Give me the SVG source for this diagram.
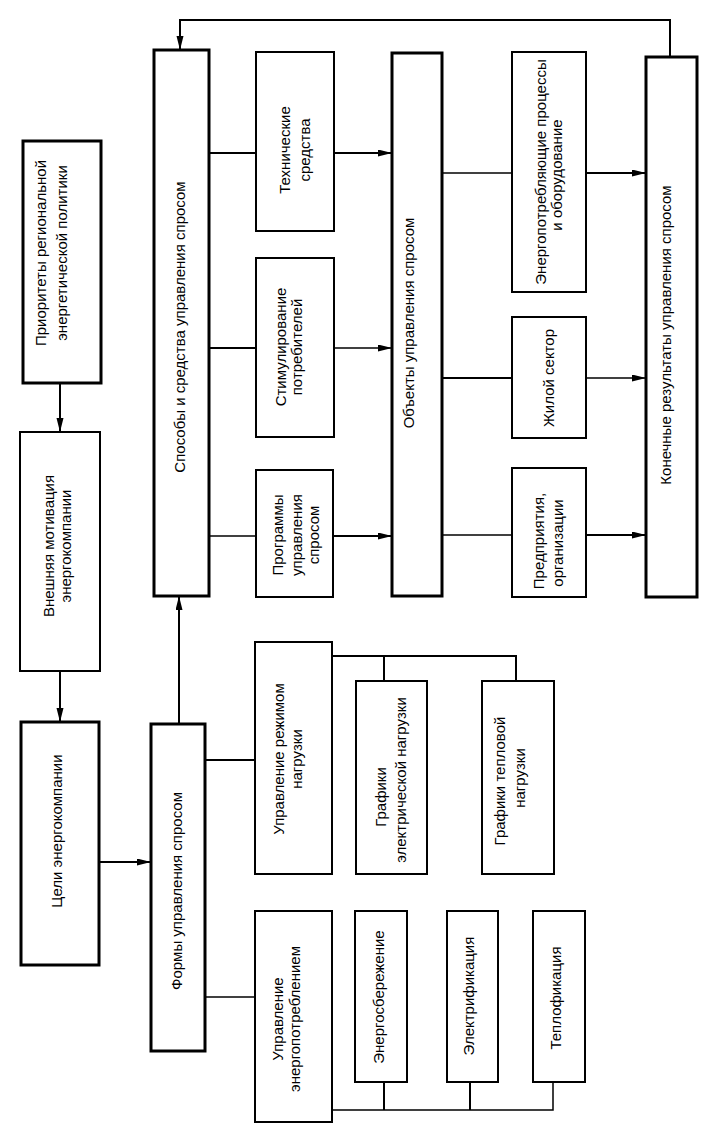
<svg xmlns="http://www.w3.org/2000/svg" width="703" height="1144" viewBox="0 0 703 1144">
<defs>
<style>
.box{fill:#fff;stroke:#000;stroke-width:2}
.thick{stroke-width:3}
.c{fill:none;stroke:#000;stroke-width:2}
.thin{stroke-width:1.5}
text{font-family:"Liberation Sans",Arial,sans-serif;font-size:15px;fill:#000;text-anchor:middle}
</style>
<marker id="ah" markerUnits="userSpaceOnUse" markerWidth="14" markerHeight="8" refX="14" refY="3.5" orient="auto">
<path d="M0,0 L14,3.5 L0,7 z" fill="#000"/>
</marker>
</defs>
<rect width="703" height="1144" fill="#fff"/>

<g id="connectors">
<path class="c" d="M670,57 V20 H180 V50" marker-end="url(#ah)"/>
<path class="c" d="M60,383 V432" marker-end="url(#ah)"/>
<path class="c" d="M60,671 V722" marker-end="url(#ah)"/>
<path class="c" d="M99,862 H151" marker-end="url(#ah)"/>
<path class="c" d="M179,724 V596" marker-end="url(#ah)"/>
<path class="c" d="M209,153 H256"/>
<path class="c" d="M334,153 H392" marker-end="url(#ah)"/>
<path class="c" d="M209,348 H256"/>
<path class="c thin" d="M334,348 H392" marker-end="url(#ah)"/>
<path class="c thin" d="M209,536 H256"/>
<path class="c" d="M333,536 H392" marker-end="url(#ah)"/>
<path class="c thin" d="M442,173 H512"/>
<path class="c" d="M586,173 H646" marker-end="url(#ah)"/>
<path class="c" d="M442,378 H512"/>
<path class="c thin" d="M586,378 H646" marker-end="url(#ah)"/>
<path class="c thin" d="M442,535 H512"/>
<path class="c" d="M586,535 H646" marker-end="url(#ah)"/>
<path class="c" d="M205,760 H255"/>
<path class="c thin" d="M205,997 H255"/>
<path class="c" d="M332,656 H516 V681"/>
<path class="c" d="M384,656 V681"/>
<path class="c thin" d="M332,1110 H553 V1082"/>
<path class="c" d="M384,1110 V1082"/>
<path class="c" d="M470,1110 V1082"/>
</g>

<g id="n-priority">
<rect class="box thick" x="23" y="141" width="78" height="242"/>
<g transform="translate(0,253) rotate(-90)"><text x="0" y="46">Приоритеты региональной</text><text x="0" y="67">энергетической политики</text></g>
</g>
<g id="n-motivation">
<rect class="box" x="20" y="432" width="80" height="239"/>
<g transform="translate(0,546) rotate(-90)"><text x="0" y="54">Внешняя мотивация</text><text x="0" y="71">энергокомпании</text></g>
</g>
<g id="n-goals">
<rect class="box thick" x="21" y="722" width="78" height="243"/>
<g transform="translate(0,831) rotate(-90)"><text x="0" y="62">Цели энергокомпании</text></g>
</g>
<g id="n-methods">
<rect class="box thick" x="154" y="50" width="55" height="546"/>
<g transform="translate(0,327) rotate(-90)"><text x="0" y="185">Способы и средства управления спросом</text></g>
</g>
<g id="n-forms">
<rect class="box thick" x="151" y="724" width="54" height="327"/>
<g transform="translate(0,891) rotate(-90)"><text x="0" y="182">Формы управления спросом</text></g>
</g>
<g id="n-tech">
<rect class="box" x="256" y="52" width="78" height="179"/>
<g transform="translate(0,150) rotate(-90)"><text x="0" y="290">Технические</text><text x="0" y="310">средства</text></g>
</g>
<g id="n-stim">
<rect class="box" x="256" y="258" width="78" height="179"/>
<g transform="translate(0,347) rotate(-90)"><text x="0" y="286">Стимулирование</text><text x="0" y="302">потребителей</text></g>
</g>
<g id="n-programs">
<rect class="box" x="256" y="470" width="77" height="127"/>
<g transform="translate(0,535) rotate(-90)"><text x="0" y="283">Программы</text><text x="0" y="302">управления</text><text x="0" y="319">спросом</text></g>
</g>
<g id="n-objects">
<rect class="box thick" x="392" y="53" width="50" height="543"/>
<g transform="translate(0,323) rotate(-90)"><text x="0" y="414">Объекты управления спросом</text></g>
</g>
<g id="n-loadmode">
<rect class="box" x="255" y="642" width="77" height="232"/>
<g transform="translate(0,759) rotate(-90)"><text x="0" y="284">Управление режимом</text><text x="0" y="302">нагрузки</text></g>
</g>
<g id="n-elgraph">
<rect class="box" x="356" y="681" width="71" height="193"/>
<g transform="translate(0,797) rotate(-90)"><text x="0" y="386">Графики</text></g>
<g transform="translate(0,780) rotate(-90)"><text x="0" y="406">электрической нагрузки</text></g>
</g>
<g id="n-heatgraph">
<rect class="box" x="482" y="681" width="72" height="193"/>
<g transform="translate(0,781) rotate(-90)"><text x="0" y="505">Графики тепловой</text></g>
<g transform="translate(0,778) rotate(-90)"><text x="0" y="525">нагрузки</text></g>
</g>
<g id="n-consumption">
<rect class="box" x="255" y="911" width="77" height="211"/>
<g transform="translate(0,1019) rotate(-90)"><text x="0" y="283">Управление</text><text x="0" y="300">энергопотреблением</text></g>
</g>
<g id="n-saving">
<rect class="box" x="355" y="911" width="52" height="171"/>
<g transform="translate(0,997) rotate(-90)"><text x="0" y="384">Энергосбережение</text></g>
</g>
<g id="n-electrification">
<rect class="box" x="447" y="911" width="51" height="171"/>
<g transform="translate(0,996) rotate(-90)"><text x="0" y="474">Электрификация</text></g>
</g>
<g id="n-heating">
<rect class="box" x="533" y="911" width="52" height="171"/>
<g transform="translate(0,998) rotate(-90)"><text x="0" y="561">Теплофикация</text></g>
</g>
<g id="n-processes">
<rect class="box" x="512" y="52" width="74" height="240"/>
<g transform="translate(0,172) rotate(-90)"><text x="0" y="546">Энергопотребляющие процессы</text></g>
<g transform="translate(0,175) rotate(-90)"><text x="0" y="562">и оборудование</text></g>
</g>
<g id="n-housing">
<rect class="box" x="512" y="317" width="74" height="121"/>
<g transform="translate(0,378) rotate(-90)"><text x="0" y="554">Жилой сектор</text></g>
</g>
<g id="n-enterprises">
<rect class="box" x="512" y="468" width="74" height="129"/>
<g transform="translate(0,541) rotate(-90)"><text x="0" y="544">Предприятия,</text></g>
<g transform="translate(0,543) rotate(-90)"><text x="0" y="563">организации</text></g>
</g>
<g id="n-results">
<rect class="box thick" x="646" y="57" width="51" height="540"/>
<g transform="translate(0,335) rotate(-90)"><text x="0" y="671">Конечные результаты управления спросом</text></g>
</g>
</svg>
